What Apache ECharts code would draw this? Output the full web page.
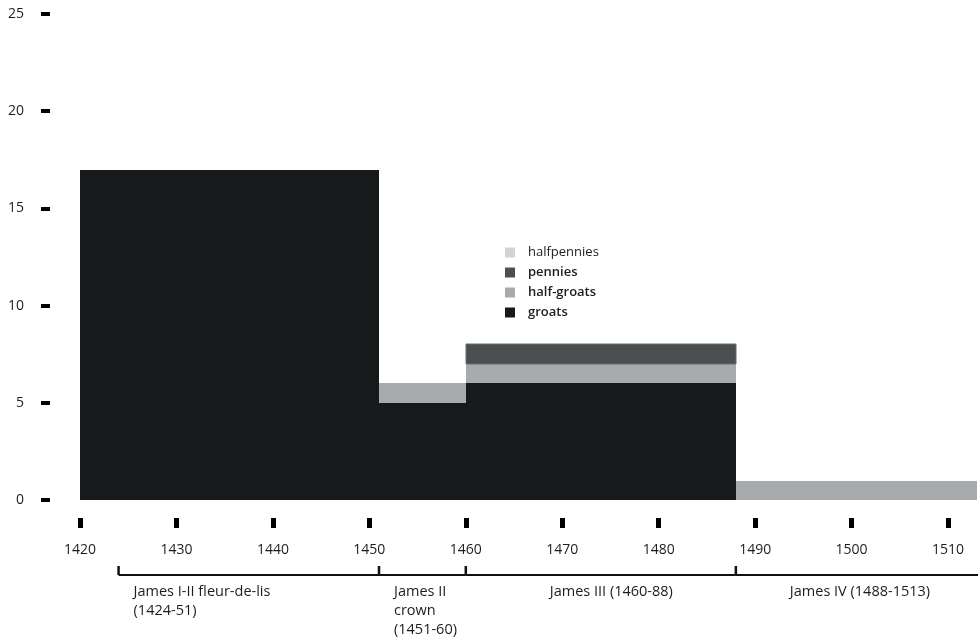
<!DOCTYPE html>
<html><head><meta charset="utf-8">
<script src="https://cdn.jsdelivr.net/npm/echarts@6/dist/echarts.min.js"></script>
<style>html,body{margin:0;padding:0;background:#fff}#c{width:978px;height:642px}</style>
</head><body><div id="c"></div>
<script>
// ---- data ----
const periodStart = [1420, 1451, 1460, 1488];
const periodEnd   = [1451, 1460, 1488, 1513];
const groats      = [17, 5, 6, 0];
const halfGroats  = [0, 1, 1, 1];
const pennies     = [0, 0, 1, 0];
const halfpennies = [0, 0, 0, 0];
const xTicks = [1420, 1430, 1440, 1450, 1460, 1470, 1480, 1490, 1500, 1510];
const yTicks = [0, 5, 10, 15, 20, 25];
const reignNames = ['James I-II fleur-de-lis\n(1424-51)', 'James II\ncrown\n(1451-60)', 'James III (1460-88)', 'James IV (1488-1513)'];
const reignStart = [1424, 1451, 1460, 1488];
const reignEnd   = [1451, 1460, 1488, 1513];

// ---- styles ----
const FONT = 'Open Sans';
const TXT = '#1d1d1d';
const colors = { 'groats': '#161a1b', 'half-groats': '#a8abae', 'pennies': '#4b4f4f', 'halfpennies': '#d1d3d4' };
const reignLabelDx = [15, 15, 84, 54];

const chart = echarts.init(document.getElementById('c'), null, { renderer: 'canvas' });

const stacks = [['groats', groats], ['half-groats', halfGroats], ['pennies', pennies], ['halfpennies', halfpennies]];
const base = periodStart.map(() => 0);
const barSeries = stacks.map(([name, vals]) => {
  const data = vals.map((v, i) => {
    const b = base[i];
    base[i] += v;
    return [periodStart[i], periodEnd[i], b, b + v];
  });
  return {
    type: 'custom', name, xAxisIndex: 0, yAxisIndex: 0,
    itemStyle: { color: colors[name] },
    encode: { x: [0, 1], y: [2, 3] },
    data,
    renderItem: (params, api) => {
      if (api.value(3) - api.value(2) <= 0) return null;
      const p0 = api.coord([api.value(0), api.value(3)]);
      const p1 = api.coord([api.value(1), api.value(2)]);
      const x0 = Math.round(p0[0]), y0 = Math.round(p0[1]);
      const x1 = Math.round(p1[0]), y1 = Math.round(p1[1]);
      return {
        type: 'rect',
        shape: { x: x0, y: y0, width: x1 - x0, height: y1 - y0 },
        style: { fill: colors[name], stroke: name === 'pennies' ? '#6b6e6f' : null, lineWidth: 1 }
      };
    }
  };
});

const reignSeries = {
  type: 'custom', xAxisIndex: 1, yAxisIndex: 1, silent: true, clip: false,
  data: reignStart.map((s, i) => [s, reignEnd[i]]),
  renderItem: (params, api) => {
    const i = params.dataIndex;
    const a = api.coord([api.value(0), 0]);
    const b = api.coord([api.value(1), 0]);
    const right = i === reignStart.length - 1 ? b[0] + 2 : b[0];
    return {
      type: 'group',
      children: [
        { type: 'line', shape: { x1: a[0], y1: a[1], x2: right, y2: b[1] }, style: { stroke: '#111', lineWidth: 2 } },
        { type: 'line', shape: { x1: a[0], y1: a[1], x2: a[0], y2: a[1] - 9 }, style: { stroke: '#111', lineWidth: 2.5 } },
        { type: 'text', x: a[0] + reignLabelDx[i], y: a[1] + 7,
          style: { text: reignNames[i], fill: TXT, font: '14.5px "' + FONT + '"', lineHeight: 19, textAlign: 'left', textVerticalAlign: 'top' } }
      ]
    };
  }
};

chart.setOption({
  animation: false,
  backgroundColor: '#fff',
  grid: [
    { left: 80, right: 1, top: 14, bottom: 142 },
    { left: 80, right: 1, top: 565, height: 10 }
  ],
  xAxis: [
    { type: 'value', gridIndex: 0, min: 1420, max: 1513, interval: 10, offset: 18, position: 'bottom',
      axisLine: { show: false, onZero: false }, splitLine: { show: false },
      axisTick: { show: true, length: 10, customValues: xTicks, lineStyle: { color: '#000', width: 5 } },
      axisLabel: { customValues: xTicks, margin: 25, color: TXT, fontFamily: FONT, fontSize: 14, formatter: v => String(v) } },
    { type: 'value', gridIndex: 1, min: 1420, max: 1513, show: false }
  ],
  yAxis: [
    { type: 'value', gridIndex: 0, min: 0, max: 25, interval: 5, offset: 30,
      axisLine: { show: false, onZero: false }, splitLine: { show: false },
      axisTick: { show: true, length: 9, customValues: yTicks, lineStyle: { color: '#000', width: 4 } },
      axisLabel: { customValues: yTicks, margin: 26, color: TXT, fontFamily: FONT, fontSize: 14 } },
    { type: 'value', gridIndex: 1, min: 0, max: 1, show: false }
  ],
  legend: {
    orient: 'vertical', left: 505, top: 246, padding: 0, itemGap: 7,
    itemWidth: 10, itemHeight: 10, icon: 'rect',
    textStyle: { color: TXT, fontFamily: FONT, fontSize: 13, padding: [0, 0, 0, 8] },
    data: [
      { name: 'halfpennies' },
      { name: 'pennies', textStyle: { fontWeight: 600 } },
      { name: 'half-groats', textStyle: { fontWeight: 600 } },
      { name: 'groats', textStyle: { fontWeight: 600 } }
    ]
  },
  series: [...barSeries, reignSeries]
});
</script>
</body></html>
